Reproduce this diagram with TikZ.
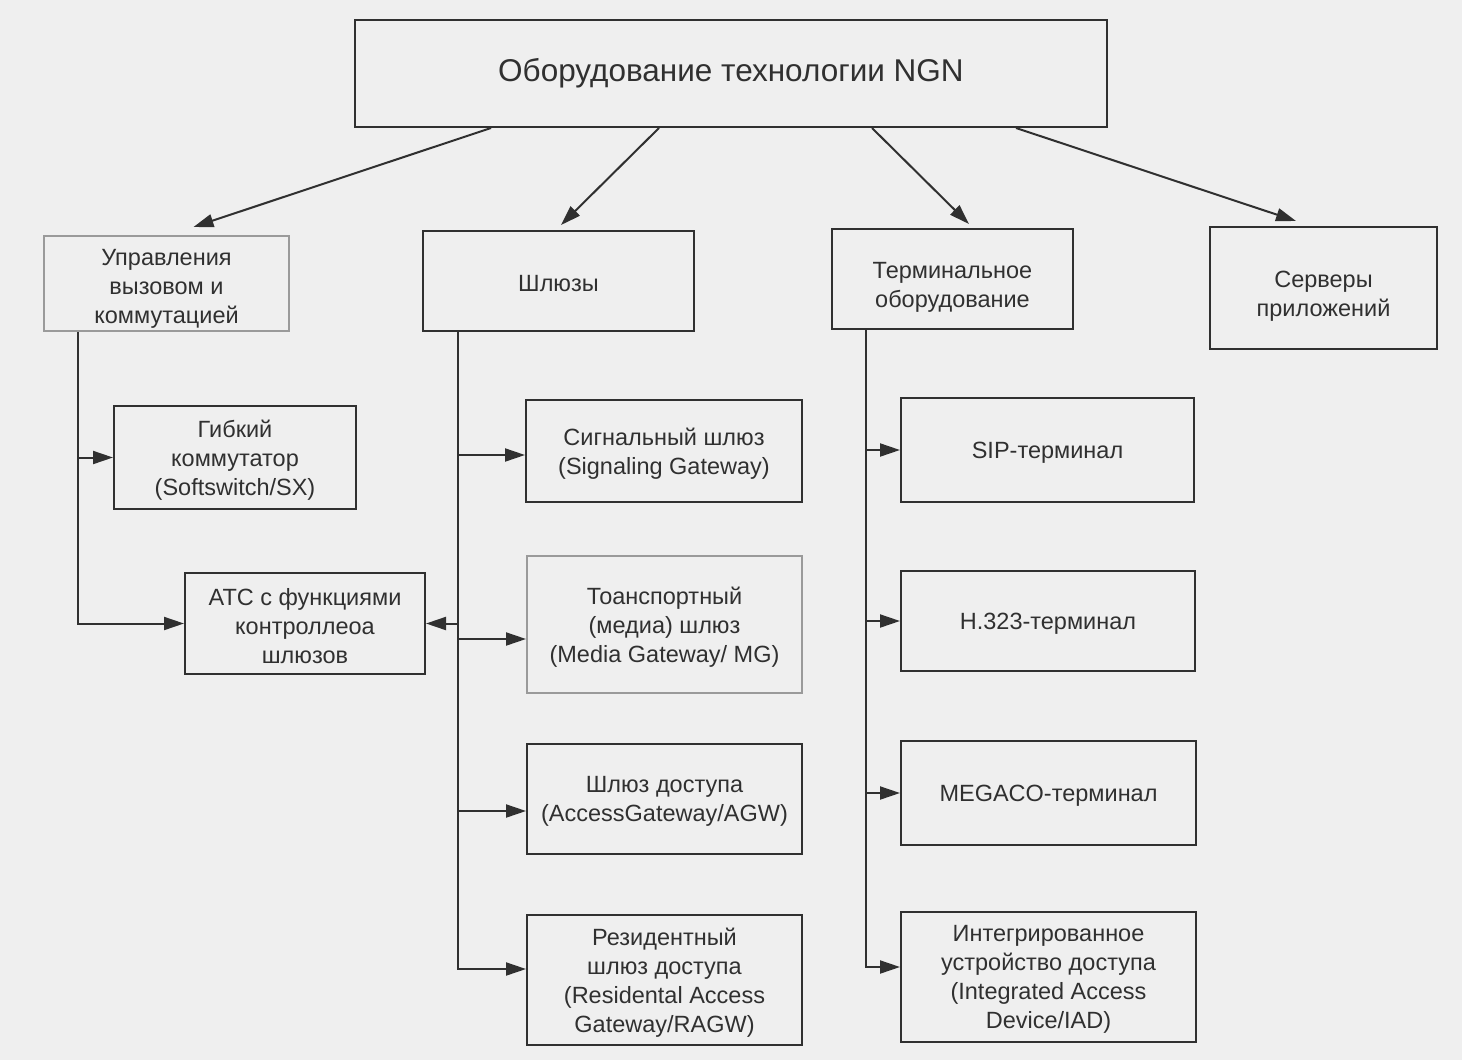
\documentclass[tikz,border=0pt]{standalone}
\usepackage{fontspec}
\setmainfont{Liberation Sans}
\usetikzlibrary{arrows.meta}
\definecolor{ink}{HTML}{303030}
\definecolor{pale}{HTML}{9A9A9A}
\definecolor{paper}{HTML}{EFEFEF}
\begin{document}
\begin{tikzpicture}[x=1pt,y=-1pt,
  box/.style={draw=ink, line width=2pt, rectangle, inner sep=0pt},
  palebox/.style={box, draw=pale},
  lbl/.style={align=center, text=ink, font=\fontsize{23.5}{29}\selectfont, inner sep=0pt},
  txt/.style={label={[lbl,yshift=-2.5pt]center:{#1}}},
  txtl/.style={label={[lbl,yshift=-8pt]center:{#1}}},
  line/.style={draw=ink, line width=2pt},
  arr/.style={line, -{Triangle[length=20pt,width=13pt]}}]
\fill[paper] (0,0) rectangle (1462,1060);
\useasboundingbox (0,0) rectangle (1462,1060);

\node[box, minimum width=752pt, minimum height=107pt, text=ink, font=\fontsize{31.5}{36}\selectfont] (top) at (731,73.5) {Оборудование технологии NGN};

\node[palebox, minimum width=245pt, minimum height=95pt, label={[lbl,yshift=-5pt]center:{Управления\\вызовом и\\коммутацией}}] (ctrl) at (166.5,283.5) {};
\node[box, minimum width=271pt, minimum height=100pt, txt={Шлюзы}] (gw) at (558.5,281) {};
\node[box, minimum width=241pt, minimum height=100pt, txtl={Терминальное\\оборудование}] (term) at (952.5,279) {};
\node[box, minimum width=227pt, minimum height=122pt, txtl={Серверы\\приложений}] (serv) at (1323.5,288) {};

\node[box, minimum width=242pt, minimum height=103pt, txt={Гибкий\\коммутатор\\(Softswitch/SX)}] (soft) at (235,457.5) {};
\node[box, minimum width=240pt, minimum height=101pt, txt={АТС с функциями\\контроллеоа\\шлюзов}] (atc) at (305,623.5) {};

\node[box, minimum width=276pt, minimum height=102pt, txt={Сигнальный шлюз\\(Signaling Gateway)}] (sig) at (664,451) {};
\node[palebox, minimum width=275pt, minimum height=137pt, txt={Тоанспортный\\(медиа) шлюз\\(Media Gateway/ MG)}] (media) at (664.5,624.5) {};
\node[box, minimum width=275pt, minimum height=110pt, txt={Шлюз доступа\\(AccessGateway/AGW)}] (agw) at (664.5,799) {};
\node[box, minimum width=275pt, minimum height=130pt, txt={Резидентный\\шлюз доступа\\(Residental Access\\Gateway/RAGW)}] (ragw) at (664.5,980) {};

\node[box, minimum width=293pt, minimum height=104pt, txt={SIP-терминал}] (sip) at (1047.5,450) {};
\node[box, minimum width=294pt, minimum height=100pt, txt={H.323-терминал}] (h323) at (1048,621) {};
\node[box, minimum width=295pt, minimum height=104pt, txt={MEGACO-терминал}] (meg) at (1048.5,793) {};
\node[box, minimum width=295pt, minimum height=130pt, txt={Интегрированное\\устройство доступа\\(Integrated Access\\Device/IAD)}] (iad) at (1048.5,977) {};

% top-level arrows
\draw[arr] ([xshift=137pt]top.south west) -- ([xshift=27pt,yshift=8pt]ctrl.north);
\draw[arr] ([xshift=305pt]top.south west) -- ([xshift=2.5pt,yshift=5pt]gw.north);
\draw[arr] ([xshift=518pt]top.south west) -- ([xshift=16.5pt,yshift=4pt]term.north);
\draw[arr] ([xshift=662pt]top.south west) -- ([xshift=-27.5pt,yshift=5pt]serv.north);

% call control branch
\coordinate (c0) at ([xshift=35pt]ctrl.south west);
\draw[arr] (c0) |- (atc.west);
\draw[arr] (soft.west -| c0) -- (soft.west);

% gateways branch
\coordinate (g0) at ([xshift=36pt]gw.south west);
\draw[arr] (g0) |- ([yshift=11pt]ragw.west);
\draw[arr] ([yshift=-4pt]sig.west -| g0) -- ([yshift=-4pt]sig.west);
\draw[arr] (atc.east -| g0) -- (atc.east);
\draw[arr] ([yshift=-14.5pt]media.west -| g0) -- ([yshift=-14.5pt]media.west);
\draw[arr] ([yshift=-12pt]agw.west -| g0) -- ([yshift=-12pt]agw.west);

% terminal branch
\coordinate (t0) at ([xshift=35pt]term.south west);
\draw[arr] (t0) |- ([yshift=10pt]iad.west);
\draw[arr] (sip.west -| t0) -- (sip.west);
\draw[arr] (h323.west -| t0) -- (h323.west);
\draw[arr] (meg.west -| t0) -- (meg.west);
\end{tikzpicture}
\end{document}
